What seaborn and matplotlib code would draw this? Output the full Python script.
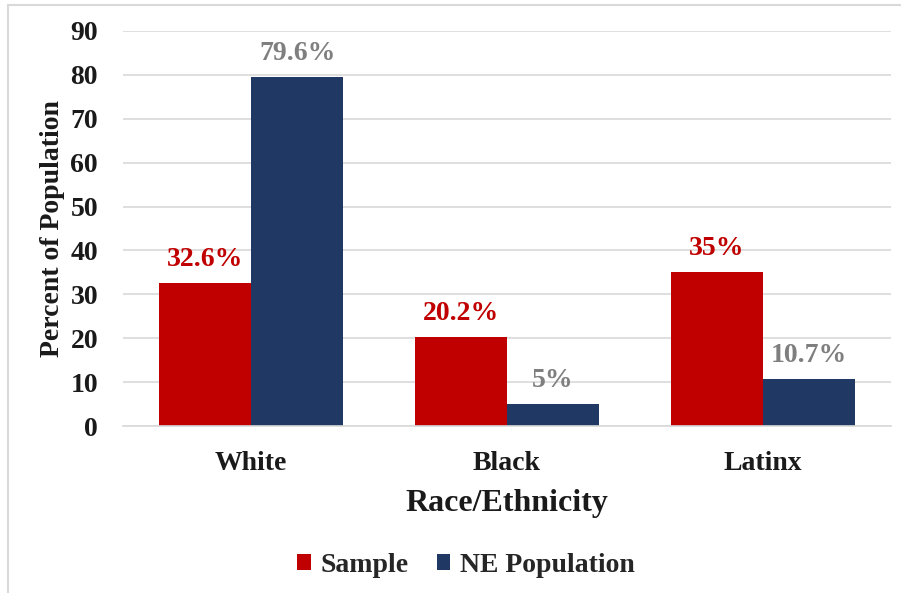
import matplotlib
matplotlib.use("Agg")
import matplotlib.pyplot as plt
from matplotlib.patches import Rectangle, Patch
import seaborn as sns
import pandas as pd

categories = ["White", "Black", "Latinx"]
series_names = ["Sample", "NE Population"]
sample_values = [32.6, 20.2, 35.0]
ne_values = [79.6, 5.0, 10.7]
sample_labels = ["32.6%", "20.2%", "35%"]
ne_labels = ["79.6%", "5%", "10.7%"]
y_ticks = [0, 10, 20, 30, 40, 50, 60, 70, 80, 90]

colors = {"Sample": "#C00000", "NE Population": "#203864"}
label_colors = {"Sample": "#C00000", "NE Population": "#7F7F7F"}

df = pd.DataFrame({
    "Race/Ethnicity": categories * 2,
    "Series": [series_names[0]] * 3 + [series_names[1]] * 3,
    "Percent": sample_values + ne_values,
})

sns.set_theme(style="white")
plt.rcParams["font.family"] = ["Liberation Serif", "DejaVu Serif"]
plt.rcParams["font.weight"] = "bold"

fig = plt.figure(figsize=(9.01, 5.93), dpi=100)
ax = fig.add_axes([123 / 901, 1 - 426 / 593, (891 - 123) / 901, (426 - 31) / 593])

sns.barplot(data=df, x="Race/Ethnicity", y="Percent", hue="Series",
            palette=colors, width=0.72, gap=0, saturation=1,
            edgecolor="none", ax=ax, legend=False)

ax.set_ylim(0, 90)
ax.set_xlim(-0.5, 2.5)
ax.set_yticks(y_ticks)
ax.yaxis.grid(True, color="#D9D9D9", linewidth=1.2)
ax.set_axisbelow(True)
for s in ["top", "right", "left"]:
    ax.spines[s].set_visible(False)
ax.spines["bottom"].set_color("#D9D9D9")
ax.spines["bottom"].set_linewidth(1.2)
ax.tick_params(axis="y", length=0, pad=18, labelsize=20, labelcolor="#1a1a1a")
ax.tick_params(axis="x", length=0, pad=18, labelsize=20, labelcolor="#1a1a1a")
for t in ax.get_xticklabels() + ax.get_yticklabels():
    t.set_fontweight("bold")

ax.set_xlabel("Race/Ethnicity", fontsize=23, fontweight="bold", color="#1a1a1a", labelpad=9)
ax.set_ylabel("Percent of Population", fontsize=20, fontweight="bold", color="#1a1a1a")
ax.yaxis.set_label_coords(-0.075, 0.50)

# value labels above each bar
for container, name, labels in zip(ax.containers, series_names, [sample_labels, ne_labels]):
    ax.bar_label(container, labels=labels, padding=8, fontsize=20,
                 fontweight="bold", color=label_colors[name])

handles = [Patch(facecolor=colors[n], edgecolor="none") for n in series_names]
fig.legend(handles, series_names, loc="center", bbox_to_anchor=(466 / 901, 1 - 565 / 593),
           ncol=2, frameon=False, handlelength=0.5, handleheight=0.5,
           handletextpad=0.35, columnspacing=1.0,
           prop={"weight": "bold", "size": 20})

# outer chart frame
fig.patches.append(Rectangle((8 / 901, -0.05), 1.0, 1 - 5 / 593 + 0.05,
                             transform=fig.transFigure, fill=False,
                             edgecolor="#D9D9D9", linewidth=1.5))

fig.savefig("out.png", dpi=100, facecolor="white")
